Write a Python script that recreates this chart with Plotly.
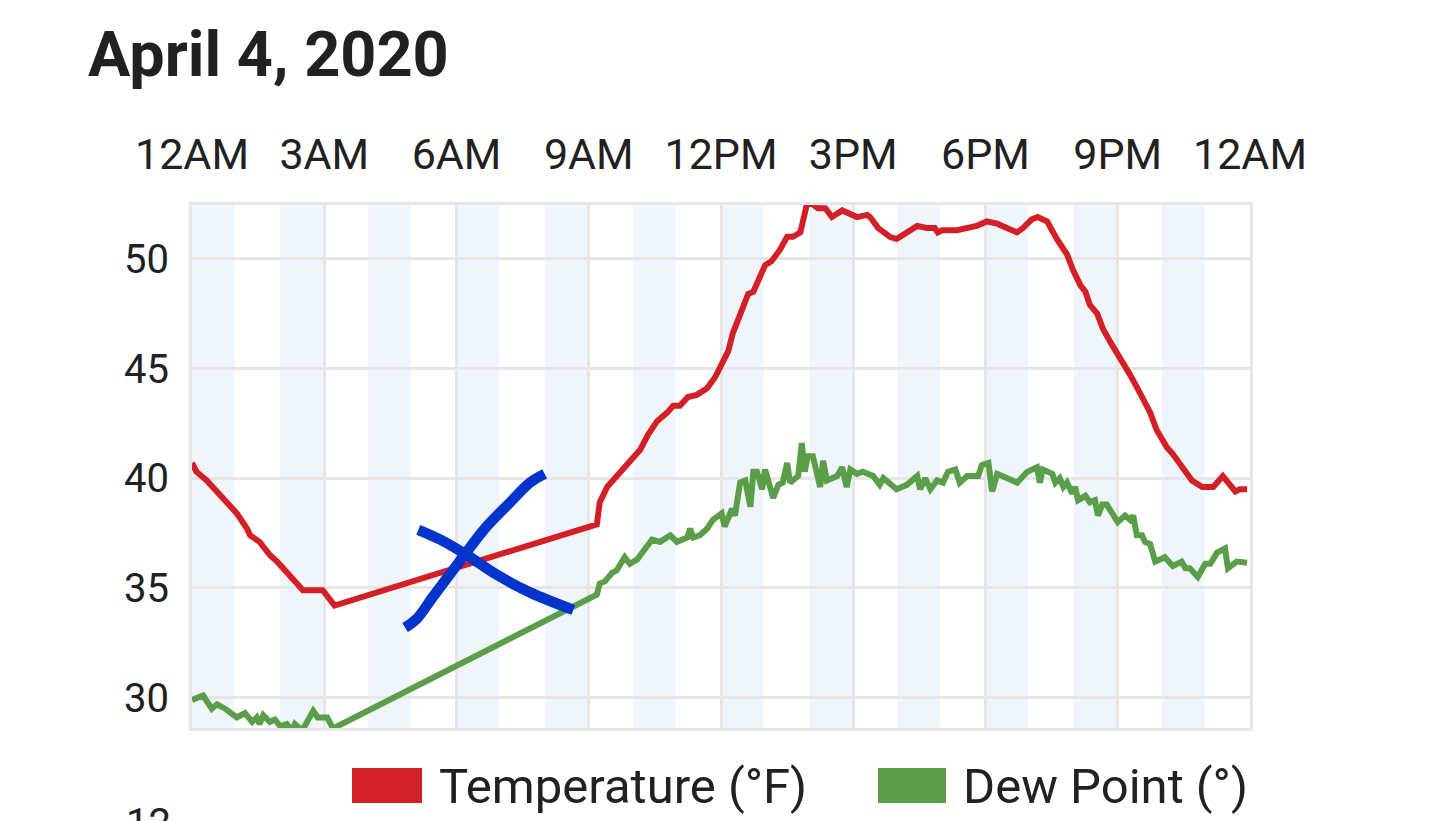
import plotly.graph_objects as go

DAY = '2020-04-04'

# temperature (F)
temp_times = ['00:00', '00:06', '00:20', '00:42', '01:01', '01:15', '01:19', '01:32', '01:46', '01:56',
              '02:09', '02:17', '02:31', '02:58', '03:14', '09:11', '09:15', '09:25', '09:43', '10:00',
              '10:10', '10:21', '10:33', '10:47', '10:55', '11:04', '11:15', '11:27', '11:41', '11:52',
              '12:03', '12:10', '12:16', '12:23', '12:30', '12:37', '12:44', '12:50', '13:00', '13:09',
              '13:20', '13:30', '13:38', '13:48', '13:57', '14:04', '14:12', '14:22', '14:31', '14:45',
              '14:53', '15:05', '15:19', '15:23', '15:34', '15:50', '15:59', '16:13', '16:27', '16:40',
              '16:51', '16:55', '17:01', '17:21', '17:35', '17:48', '18:02', '18:16', '18:29', '18:43',
              '18:51', '19:03', '19:11', '19:24', '19:37', '19:51', '19:59', '20:09', '20:16', '20:22',
              '20:32', '20:40', '20:50', '21:03', '21:17', '21:30', '21:44', '21:53', '22:07', '22:15',
              '22:29', '22:41', '22:55', '23:03', '23:10', '23:23', '23:33', '23:40', '23:46', '23:56']
temp_vals = [40.7, 40.3, 39.9, 39.1, 38.4, 37.7, 37.4, 37.1, 36.5, 36.2,
             35.7, 35.4, 34.9, 34.9, 34.2, 37.9, 38.9, 39.6, 40.3, 40.9,
             41.3, 42.0, 42.6, 43.0, 43.3, 43.3, 43.7, 43.8, 44.1, 44.6,
             45.3, 45.8, 46.6, 47.2, 47.9, 48.4, 48.5, 49.0, 49.7, 49.9,
             50.4, 51.0, 51.0, 51.2, 52.5, 52.5, 52.3, 52.3, 51.9, 52.2,
             52.1, 51.9, 52.0, 51.9, 51.4, 51.0, 50.9, 51.2, 51.5, 51.4,
             51.4, 51.2, 51.3, 51.3, 51.4, 51.5, 51.7, 51.6, 51.4, 51.2,
             51.4, 51.8, 51.9, 51.7, 50.9, 50.2, 49.5, 48.8, 48.5, 47.9,
             47.5, 46.8, 46.2, 45.5, 44.7, 43.9, 43.0, 42.2, 41.4, 41.1,
             40.4, 39.9, 39.6, 39.6, 39.6, 40.1, 39.7, 39.4, 39.5, 39.5]

# dew point
dew_times = ['00:00', '00:15', '00:27', '00:34', '00:45', '01:01', '01:12', '01:22', '01:28', '01:32',
             '01:37', '01:46', '01:53', '02:00', '02:09', '02:16', '02:20', '02:30', '02:45', '02:51',
             '03:04', '03:12', '09:11', '09:15', '09:22', '09:32', '09:38', '09:49', '09:56', '10:06',
             '10:17', '10:26', '10:37', '10:51', '11:00', '11:14', '11:18', '11:22', '11:31', '11:41',
             '11:49', '12:01', '12:05', '12:15', '12:19', '12:26', '12:33', '12:40', '12:44', '12:49',
             '12:56', '13:00', '13:11', '13:18', '13:24', '13:30', '13:34', '13:45', '13:50', '13:54',
             '13:58', '14:05', '14:15', '14:19', '14:24', '14:38', '14:45', '14:51', '14:56', '15:05',
             '15:13', '15:27', '15:36', '15:41', '15:59', '16:13', '16:27', '16:31', '16:38', '16:45',
             '16:54', '17:02', '17:09', '17:19', '17:25', '17:35', '17:50', '17:55', '18:04', '18:09',
             '18:16', '18:29', '18:43', '18:57', '19:10', '19:14', '19:18', '19:31', '19:35', '19:41',
             '19:46', '19:51', '19:58', '20:02', '20:06', '20:16', '20:22', '20:29', '20:33', '20:39',
             '20:45', '21:00', '21:10', '21:17', '21:21', '21:26', '21:33', '21:37', '21:44', '21:51',
             '22:04', '22:15', '22:27', '22:32', '22:38', '22:49', '22:59', '23:06', '23:15', '23:26',
             '23:30', '23:42', '23:51', '23:56']
dew_vals = [29.9, 30.1, 29.5, 29.7, 29.5, 29.1, 29.3, 28.9, 29.1, 28.8,
            29.2, 28.9, 29.0, 28.7, 28.8, 28.5, 28.8, 28.5, 29.4, 29.1,
            29.1, 28.6, 34.7, 35.2, 35.3, 35.7, 35.8, 36.4, 36.1, 36.3,
            36.8, 37.2, 37.1, 37.4, 37.1, 37.3, 37.7, 37.3, 37.4, 37.7,
            38.1, 38.4, 37.8, 38.6, 38.3, 39.8, 39.9, 38.7, 40.3, 40.3,
            39.5, 40.4, 39.1, 39.7, 39.8, 40.7, 39.8, 40.1, 41.6, 40.3,
            41.0, 41.0, 39.6, 40.8, 39.9, 40.1, 40.5, 39.6, 40.4, 40.2,
            40.3, 40.1, 39.7, 40.0, 39.5, 39.7, 40.1, 39.5, 40.0, 39.5,
            39.9, 39.8, 40.3, 40.4, 39.8, 40.1, 40.1, 40.6, 40.7, 39.4,
            40.2, 40.0, 39.8, 40.3, 40.5, 39.8, 40.4, 40.2, 39.8, 40.0,
            39.6, 39.8, 39.3, 39.6, 39.0, 39.2, 38.9, 39.0, 38.3, 38.8,
            38.8, 38.0, 38.3, 38.1, 38.3, 37.4, 37.4, 37.1, 37.0, 36.2,
            36.4, 36.0, 36.2, 35.9, 35.9, 35.5, 36.1, 36.1, 36.6, 36.8,
            35.9, 36.2, 36.2, 36.15]

# the hand drawn blue cross over the gap
scribble1_times = ['04:50', '05:06', '05:28', '05:55', '06:14', '06:41', '07:13', '07:40', '08:00']
scribble1_vals = [33.2, 33.6, 34.6, 35.8, 36.65, 37.8, 38.9, 39.8, 40.2]
scribble2_times = ['05:08', '05:38', '06:14', '06:55', '07:40', '08:39']
scribble2_vals = [37.65, 37.2, 36.5, 35.6, 34.8, 34.0]

y_ticks = [30, 35, 40, 45, 50]

RED = '#d32027'
GREEN = '#5b9e4a'
BLUE = '#0434cc'
TEXT = '#212121'
GRID = '#e6e6e6'
BAND = '#eff5fa'

# the page body keeps its default 8px margin, so the figure is drawn 8px in
OFF = 8
W, H = 1437 - OFF, 821 - OFF
# plot box in page pixels: x 192..1250, y 205..728
L, R, T, B = 192 - OFF, 1437 - 1250, 205 - OFF, 821 - 728


def stamp(times):
    return [DAY + ' ' + t for t in times]


def paper_x(p):
    # page pixel -> paper fraction
    return (p - OFF - L) / (W - L - R)


def paper_y(q):
    return (H - B - (q - OFF)) / (H - T - B)


fig = go.Figure()

fig.add_trace(go.Scatter(x=stamp(temp_times), y=temp_vals, mode='lines',
                         line=dict(color=RED, width=6), name='Temperature (°F)'))
fig.add_trace(go.Scatter(x=stamp(dew_times), y=dew_vals, mode='lines',
                         line=dict(color=GREEN, width=6), name='Dew Point (°)'))
for tt, vv in [(scribble1_times, scribble1_vals), (scribble2_times, scribble2_vals)]:
    fig.add_trace(go.Scatter(x=stamp(tt), y=vv, mode='lines',
                             line=dict(color=BLUE, width=10.5, shape='spline'),
                             showlegend=False))

# light blue hour bands, every other hour
shapes = []
for h in range(0, 24, 2):
    shapes.append(dict(type='rect', xref='x', yref='paper', layer='below',
                       x0='%s %02d:00' % (DAY, h), x1='%s %02d:58' % (DAY, h),
                       y0=0, y1=1, fillcolor=BAND, line=dict(width=0)))

# hand made legend with big swatches
legend_items = [('Temperature (°F)', RED, 352, 422), ('Dew Point (°)', GREEN, 878, 946)]
annotations = []
for label, col, x0, x1 in legend_items:
    shapes.append(dict(type='rect', xref='paper', yref='paper',
                       x0=paper_x(x0), x1=paper_x(x1), y0=paper_y(768), y1=paper_y(803),
                       fillcolor=col, line=dict(width=0)))
    annotations.append(dict(text=label, xref='paper', yref='paper', x=paper_x(x1 + 15),
                            y=paper_y(786), xanchor='left', yanchor='middle', showarrow=False,
                            font=dict(size=49, color=TEXT)))

# top of the next chart's axis label, cut by the page edge
annotations.append(dict(text='12', xref='paper', yref='paper', x=paper_x(173), y=paper_y(798),
                        xanchor='right', yanchor='top', showarrow=False,
                        font=dict(size=40, color=TEXT)))

fig.update_layout(
    width=W, height=H,
    margin=dict(l=L, r=R, t=T, b=B),
    paper_bgcolor='white', plot_bgcolor='white',
    font=dict(family='Roboto', color=TEXT),
    showlegend=False,
    title=dict(text='<b>April 4, 2020</b>', xref='container', yref='container',
               x=(88 - OFF) / W, y=1 - (54 - OFF) / H, xanchor='left', yanchor='middle',
               font=dict(size=63, color=TEXT, family='Roboto')),
    shapes=shapes,
    annotations=annotations,
)

fig.update_xaxes(type='date', side='top',
                 range=[DAY + ' 00:00', '2020-04-05 00:00'],
                 tick0=DAY + ' 00:00', dtick=3 * 3600 * 1000, tickformat='%-I%p',
                 showgrid=True, gridcolor=GRID, gridwidth=3,
                 showline=True, linecolor=GRID, linewidth=3, mirror=True,
                 ticks='', ticklabelstandoff=16, tickfont=dict(size=43, color=TEXT),
                 zeroline=False)
fig.update_yaxes(range=[28.62, 52.45], tickvals=y_ticks,
                 showgrid=True, gridcolor=GRID, gridwidth=3,
                 showline=True, linecolor=GRID, linewidth=3, mirror=True,
                 ticks='', ticklabelstandoff=12, tickfont=dict(size=40, color=TEXT),
                 zeroline=False)

fig.write_html('out.html')
